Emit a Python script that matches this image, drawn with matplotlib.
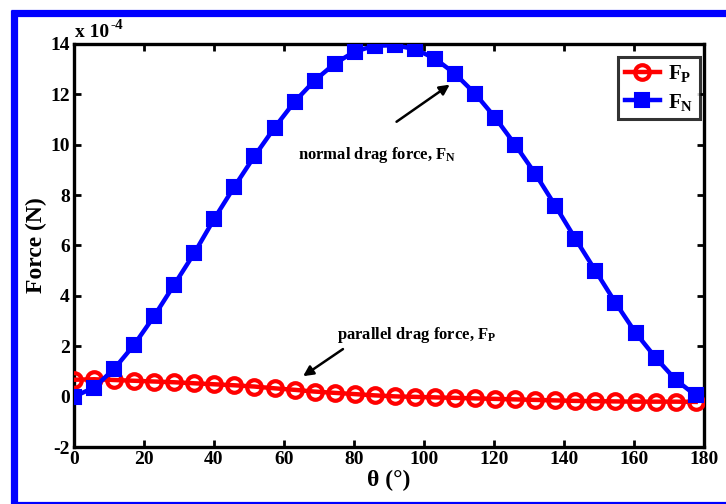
import matplotlib
matplotlib.use("Agg")
import matplotlib.pyplot as plt
from matplotlib.lines import Line2D

# theta in degrees (0, 0.1, ..., 3.1 rad)
theta = [0.0, 5.73, 11.46, 17.19, 22.92, 28.65, 34.38, 40.11, 45.84, 51.57,
         57.30, 63.03, 68.75, 74.48, 80.21, 85.94, 91.67, 97.40, 103.13, 108.86,
         114.59, 120.32, 126.05, 131.78, 137.51, 143.24, 148.97, 154.70, 160.43,
         166.16, 171.89, 177.62]

# values in units of 1e-4 N
F_P = [0.67, 0.69, 0.66, 0.63, 0.60, 0.57, 0.53, 0.49, 0.45, 0.40,
       0.33, 0.27, 0.20, 0.15, 0.10, 0.05, 0.01, -0.01, -0.03, -0.05,
       -0.07, -0.09, -0.11, -0.13, -0.15, -0.17, -0.18, -0.19, -0.20, -0.20,
       -0.20, -0.21]
F_N = [0.0, 0.36, 1.10, 2.06, 3.20, 4.45, 5.70, 7.07, 8.34, 9.55,
       10.68, 11.71, 12.55, 13.22, 13.70, 13.93, 13.95, 13.80, 13.42, 12.82,
       12.03, 11.08, 10.00, 8.85, 7.58, 6.27, 5.00, 3.73, 2.54, 1.55,
       0.67, 0.05]

xticks = [0, 20, 40, 60, 80, 100, 120, 140, 160, 180]
yticks = [-2, 0, 2, 4, 6, 8, 10, 12, 14]

plt.rcParams['font.family'] = ['Liberation Serif', 'DejaVu Serif']
plt.rcParams['font.weight'] = 'bold'
plt.rcParams['axes.unicode_minus'] = False
plt.rcParams['mathtext.fontset'] = 'custom'
plt.rcParams['mathtext.rm'] = 'Liberation Serif:bold'
plt.rcParams['mathtext.bf'] = 'Liberation Serif:bold'
plt.rcParams['mathtext.it'] = 'Liberation Serif:bold'

W, H = 726, 504
fig = plt.figure(figsize=(7.26, 5.04), dpi=100)
ax = fig.add_axes([74/W, 1-447/H, (704-74)/W, (447-44)/H])

ax.plot(theta, F_P, color='red', lw=3.2, marker='o', ms=10.5, mfc='none',
        mec='red', mew=3.0, label=r'$\mathbf{F_P}$', zorder=3)
ax.plot(theta, F_N, color='blue', lw=3.2, marker='s', ms=10.5, mfc='blue',
        mec='blue', mew=1.5, label=r'$\mathbf{F_N}$', zorder=3)

ax.set_xlim(0, 180)
ax.set_ylim(-2, 14)
ax.set_xticks(xticks)
ax.set_yticks(yticks)
ax.tick_params(direction='in', length=5, width=2, top=True, right=True,
               labelsize=14, pad=3)
for lab in ax.get_xticklabels() + ax.get_yticklabels():
    lab.set_fontweight('bold')
for s in ax.spines.values():
    s.set_linewidth(2.4)

ax.set_xlabel('θ (°)', fontsize=17, fontweight='bold', labelpad=1)
ax.set_ylabel('Force (N)', fontsize=17, fontweight='bold', labelpad=2)

t1 = ax.text(0.3, 14.1, 'x 10', fontsize=14, fontweight='bold',
             ha='left', va='bottom')
ax.annotate('-4', xy=(1, 1), xycoords=t1, xytext=(1, 4), textcoords='offset points',
            fontsize=11, fontweight='bold', ha='left', va='top')

leg = ax.legend(loc='upper right', fontsize=15, frameon=True, fancybox=False,
                edgecolor='black', borderpad=0.3, handlelength=1.7,
                handletextpad=0.4, labelspacing=0.35, borderaxespad=0,
                bbox_to_anchor=((700-74)/630, (447-57)/403))
leg.get_frame().set_linewidth(2.2)

ax.annotate('', xy=(108, 12.45), xytext=(91.5, 10.85),
            arrowprops=dict(arrowstyle='-|>', color='black', lw=1.8,
                            mutation_scale=15))
ax.text(86.5, 9.6, r'normal drag force, $\mathbf{F_N}$', fontsize=12,
        fontweight='bold', ha='center', va='center')

ax.annotate('', xy=(64.8, 0.75), xytext=(77.5, 1.95),
            arrowprops=dict(arrowstyle='-|>', color='black', lw=1.8,
                            mutation_scale=15))
ax.text(98, 2.45, r'parallel drag force, $\mathbf{F_P}$', fontsize=12,
        fontweight='bold', ha='center', va='center')

# blue outer frame (top, left, bottom; right side is off-canvas)
for xs, ys in [([11, 740], [13.3, 13.3]), ([14, 14], [10, 510]), ([11, 740], [505.0, 505.0])]:
    fig.add_artist(Line2D([x / W for x in xs], [1 - y / H for y in ys],
                          transform=fig.transFigure, color='blue', lw=5.2,
                          solid_capstyle='butt'))

fig.savefig('out.png', dpi=100)
